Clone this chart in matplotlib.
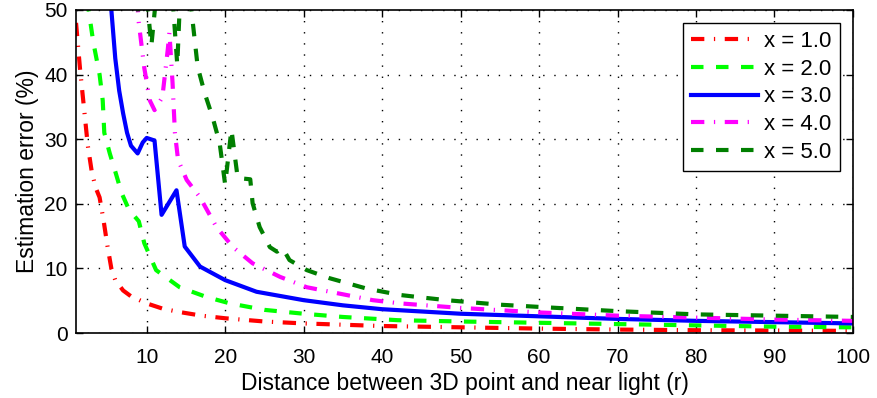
import matplotlib
matplotlib.use("Agg")
import matplotlib.pyplot as plt

plt.rcParams['font.family'] = ['Liberation Sans', 'DejaVu Sans']

# x = 1.0
r1 = [1, 1.5, 2, 2.5, 3, 3.5, 4, 4.5, 5, 5.5, 6, 7, 8, 10, 12, 14, 17, 20, 25, 30, 40, 50, 60, 70, 80, 90, 100]
e1 = [48, 41, 35, 29, 25, 22.5, 21, 17.5, 13.5, 10, 8.2, 6.6, 5.7, 4.6, 3.8, 3.3, 2.7, 2.3, 1.8, 1.5, 1.1, 0.9, 0.7, 0.55, 0.45, 0.4, 0.35]

# x = 2.0
r2 = [2.4, 2.6, 3.2, 4.0, 4.4, 4.6, 5.3, 6.0, 6.8, 7.6, 8.3, 9.0, 9.7, 11.2, 14.2, 17.6, 20.6, 25, 30, 35, 42, 50, 60, 70, 80, 90, 100]
e2 = [54, 50, 45, 40, 36, 31, 27.8, 25, 21.7, 19.5, 18.3, 17.3, 13.9, 9.75, 7.1, 5.6, 4.6, 3.6, 3.0, 2.5, 2.0, 1.8, 1.6, 1.4, 1.2, 1.0, 0.9]

# x = 3.0
r3 = [5, 5.5, 6, 6.5, 7, 7.5, 8, 8.85, 9.5, 10, 11, 11.9, 13.8, 14.85, 16.8, 20, 24, 30, 35, 40, 50, 60, 70, 80, 90, 100]
e3 = [56, 50, 42.5, 37.5, 34, 31, 29, 27.8, 29.5, 30.2, 29.8, 18.3, 22.1, 13.4, 10.3, 8.2, 6.4, 5.1, 4.3, 3.7, 3.0, 2.6, 2.2, 1.9, 1.7, 1.5]

# x = 4.0
r4 = [8.5, 9, 9.7, 10.4, 11, 12, 12.7, 12.9, 13.3, 13.6, 14, 15.1, 16.8, 18.9, 21, 23.5, 27, 30.4, 34.2, 38.8, 42.3, 50, 60, 70, 80, 90, 100]
e4 = [56, 48, 41, 36, 34.5, 36.5, 44, 46.5, 38.7, 31, 26.8, 23.7, 21, 16.4, 13.3, 10.8, 8.7, 7.1, 6.2, 5.1, 4.6, 3.9, 3.2, 2.7, 2.4, 2.1, 1.9]

# x = 5.0
r5 = [8.6, 9, 9.4, 10, 10.6, 11.2, 12, 13, 13.9, 14.4, 15.3, 15.7, 16.5, 17.4, 18.4, 19.3, 20.0, 20.8, 21.6, 23.2, 23.5, 24.4, 25.7, 26.6, 27.3, 28.2, 30.4, 33.3, 38, 42.3, 45.2, 48.2, 55, 62.3, 70, 80, 90, 100]
e5 = [54, 49, 54, 52, 44.5, 52, 57, 57, 41.5, 56, 56, 50, 41.2, 37.1, 33.4, 29.4, 23, 31.5, 24, 23.8, 20.1, 16.4, 13.3, 12.6, 13.2, 11.3, 9.75, 8.5, 6.9, 5.9, 5.5, 5.1, 4.4, 3.9, 3.4, 2.9, 2.7, 2.5]

labels = ['x = 1.0', 'x = 2.0', 'x = 3.0', 'x = 4.0', 'x = 5.0']
colors = ['#ff0000', '#00ff00', '#0000ff', '#ff00ff', '#007f00']
xticks = [10, 20, 30, 40, 50, 60, 70, 80, 90, 100]
yticks = [0, 10, 20, 30, 40, 50]

dashdot = (0, (3.2, 2.3, 0.3, 2.3))
dashed = (0, (3.0, 3.0))
styles = [dashdot, dashed, '-', dashdot, dashed]

fig = plt.figure(figsize=(8.77, 3.98), dpi=100)
ax = fig.add_axes([0.0867, 0.163, 0.8859, 0.812])

for r, e, lab, c, ls in zip([r1, r2, r3, r4, r5], [e1, e2, e3, e4, e5], labels, colors, styles):
    ax.plot(r, e, color=c, linestyle=ls, linewidth=3, label=lab)

ax.set_xlim(1, 100)
ax.set_ylim(0, 50)
ax.set_xticks(xticks)
ax.set_yticks(yticks)
ax.grid(True, color='black', linestyle=(0, (1, 7)), linewidth=1.0)
ax.tick_params(direction='in', length=5, width=1, top=True, right=True, labelsize=15, pad=6)
ax.tick_params(axis='x', pad=10.5)
for s in ax.spines.values():
    s.set_linewidth(1.2)
ax.set_xlabel('Distance between 3D point and near light (r)', fontsize=16.5, labelpad=4)
ax.set_ylabel('Estimation error (%)', fontsize=16.5, labelpad=4)

leg = ax.legend(loc='upper right', fontsize=16, handlelength=3.0, handletextpad=0.3,
                labelspacing=0.3, borderpad=0.35, fancybox=False, framealpha=1,
                edgecolor='black', borderaxespad=0.6)
leg.get_frame().set_linewidth(1.0)

fig.savefig('out.png', dpi=100)
